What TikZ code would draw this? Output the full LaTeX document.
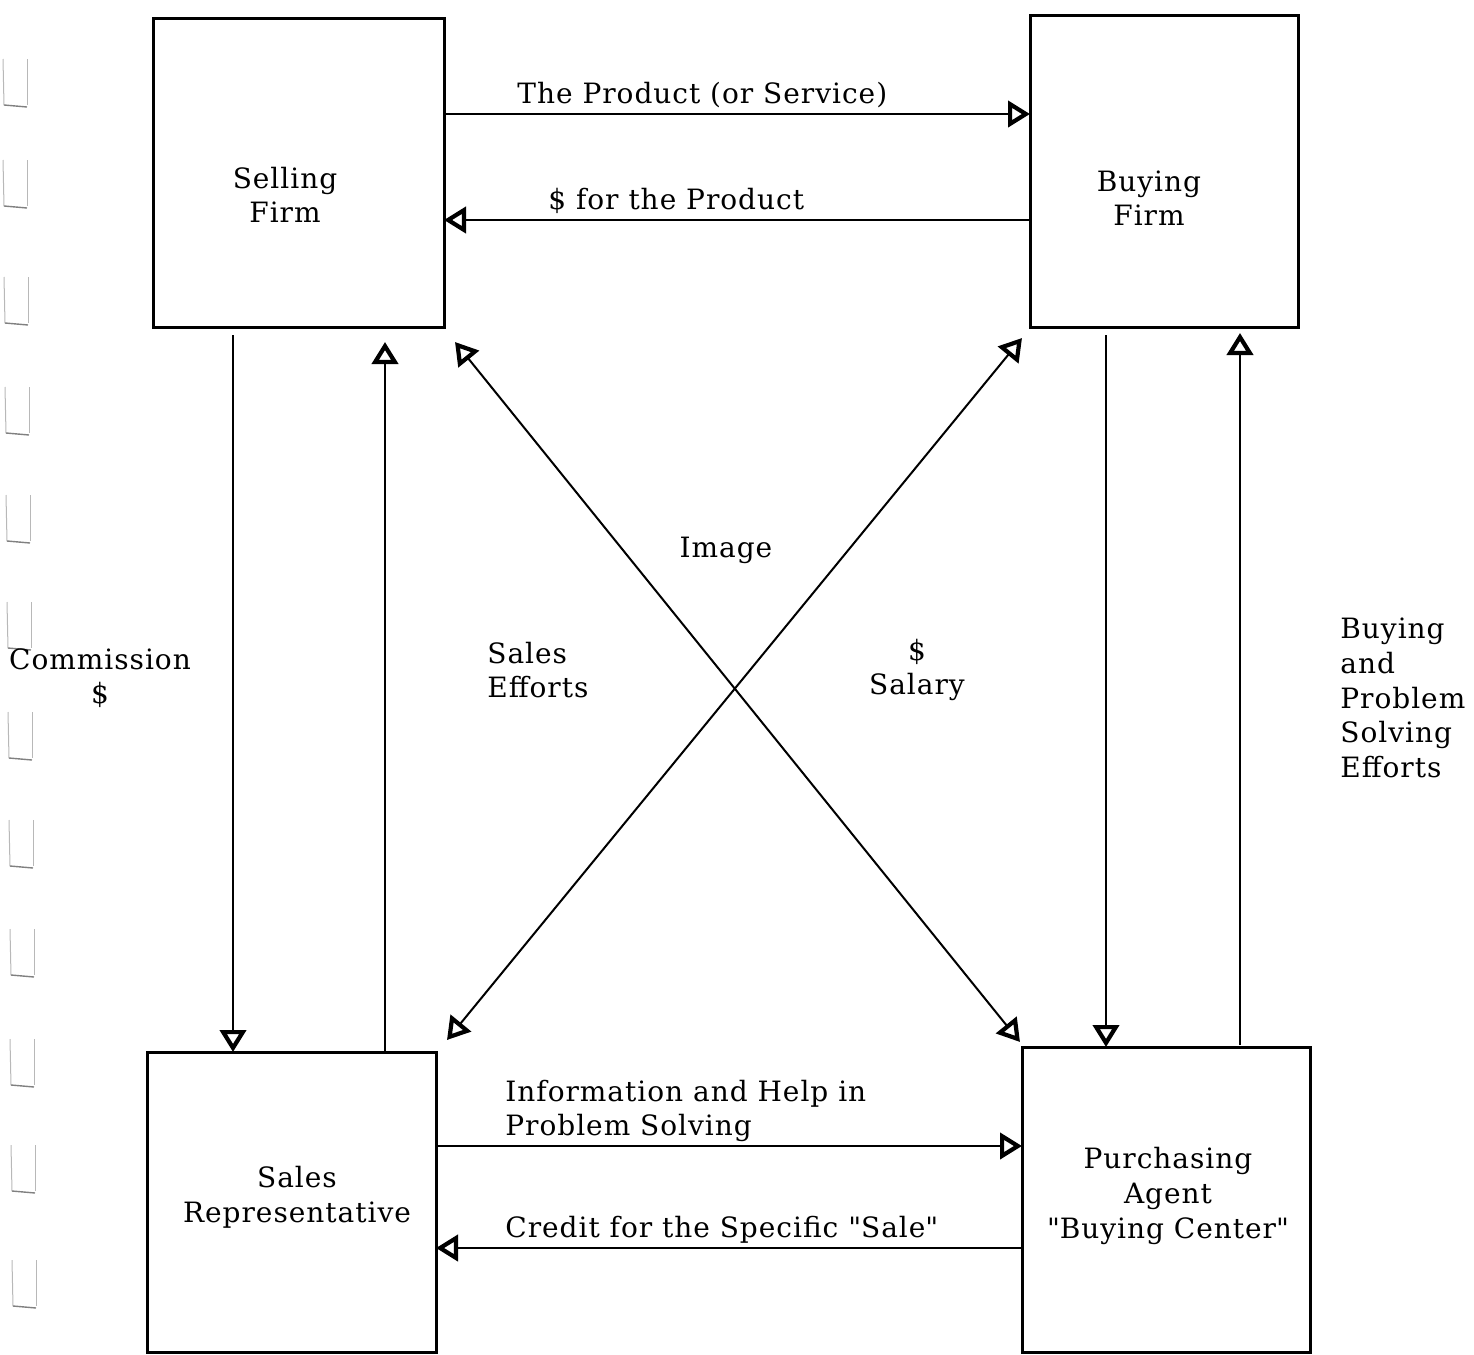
\documentclass[tikz,border=0pt]{standalone}
\usepackage{fontspec}
\setmainfont{DejaVu Serif}[LetterSpace=3.5]
\usetikzlibrary{arrows.meta}
\begin{document}
\begin{tikzpicture}[x=0.5pt,y=-0.5pt,
  box/.style={draw, line width=1.5pt, minimum width=#1, inner sep=0pt, outer sep=0pt},
  lbl/.style={inner sep=0pt, font=\fontsize{14}{17.3}\selectfont, align=center},
  lbll/.style={inner sep=0pt, font=\fontsize{14}{17.3}\selectfont, align=left, anchor=west},
  tip/.style={Triangle[open, length=11pt, width=13pt, line width=2.1pt]},
  flow/.style={line width=1pt, -{Triangle[open, length=11pt, width=13pt, line width=2.1pt]}},
  both/.style={line width=1pt, {Triangle[open, length=11pt, width=13pt, line width=2.1pt]}-{Triangle[open, length=11pt, width=13pt, line width=2.1pt]}},
  hole/.style={draw=black!28, line width=0.5pt},
  holebase/.style={draw=black!50, line width=0.7pt}]

% page extent
\useasboundingbox (0,0) rectangle (1474,1355);

% binder holes along the left margin
\foreach \b/\xl in {107/3,208/3,325/4,435/5,543/6,650/7,760/8,868/9,977/10,1087/10,1193/11,1308/12}{
  \draw[hole] (\xl,\b-48) -- (\xl+1,\b-2);
  \draw[hole] (\xl+24,\b-48) -- (\xl+24,\b-2);
  \draw[holebase] (\xl+1,\b-2) -- (\xl+24,\b);
}

% the four parties
\node[box=145.5pt, minimum height=154.5pt] (sf) at (298.5,172.5) {};
\node[box=134pt, minimum height=156pt] (bf) at (1164,171) {};
\node[box=144.5pt, minimum height=150pt] (sr) at (291.5,1202) {};
\node[box=144pt, minimum height=152.5pt] (pa) at (1166,1199.5) {};

\node[lbl] (sft) at (285,195) {Selling\\Firm};
\node[lbl] (bft) at (1149,198) {Buying\\Firm};
\node[lbl] (srt) at (297,1197) {Sales\\Representative};
\node[lbl] (pat) at (1168,1196) {Purchasing\\Agent\\\textquotedbl Buying Center\textquotedbl};

% firm to firm
\draw[flow] (sf.east |- 0,114) -- (bf.west |- 0,114);
\draw[flow] (bf.west |- 0,220) -- (sf.east |- 0,220);
\node[lbll] (prod) at (517,95) {The Product (or Service)};
\node[lbll] (pay) at (548,201) {\$ for the Product};

% selling firm and its representative
\draw[flow] ([yshift=-4pt]sf.south -| 233,0) -- (sr.north -| 233,0);
\draw[flow] (sr.north -| 385,0) -- ([yshift=-7.5pt]sf.south -| 385,0);
\node[lbl] (comm) at (100,678) {Commission\\\$};
\node[lbll] (eff) at (487,670) {Sales\\Efforts};

% buying firm and its agent
\draw[flow] ([yshift=-4pt]bf.south -| 1106,0) -- (pa.north -| 1106,0);
\draw[flow] ([yshift=1pt]pa.north -| 1240,0) -- ([yshift=-3pt]bf.south -| 1240,0);
\node[lbl] (sal) at (917,670) {\$\\Salary};
\node[lbll] (solve) at (1340,698) {Buying\\and\\Problem\\Solving\\Efforts};

% crossing exchanges
\draw[both] ([shift={(11,15)}]sf.south east) -- ([shift={(-2,-5)}]pa.north west);
\draw[both] ([shift={(-8,11)}]bf.south west) -- ([shift={(11,-12)}]sr.north east);
\node[lbl] (img) at (726,550) {Image};

% representative and agent
\draw[flow] (sr.east |- 0,1146) -- (pa.west |- 0,1146);
\draw[flow] (pa.west |- 0,1248) -- (sr.east |- 0,1248);
\node[lbll] (info) at (505,1111) {Information and Help in\\Problem Solving};
\node[lbll] (cred) at (505,1230) {Credit for the Specific \textquotedbl Sale\textquotedbl};

\end{tikzpicture}
\end{document}
